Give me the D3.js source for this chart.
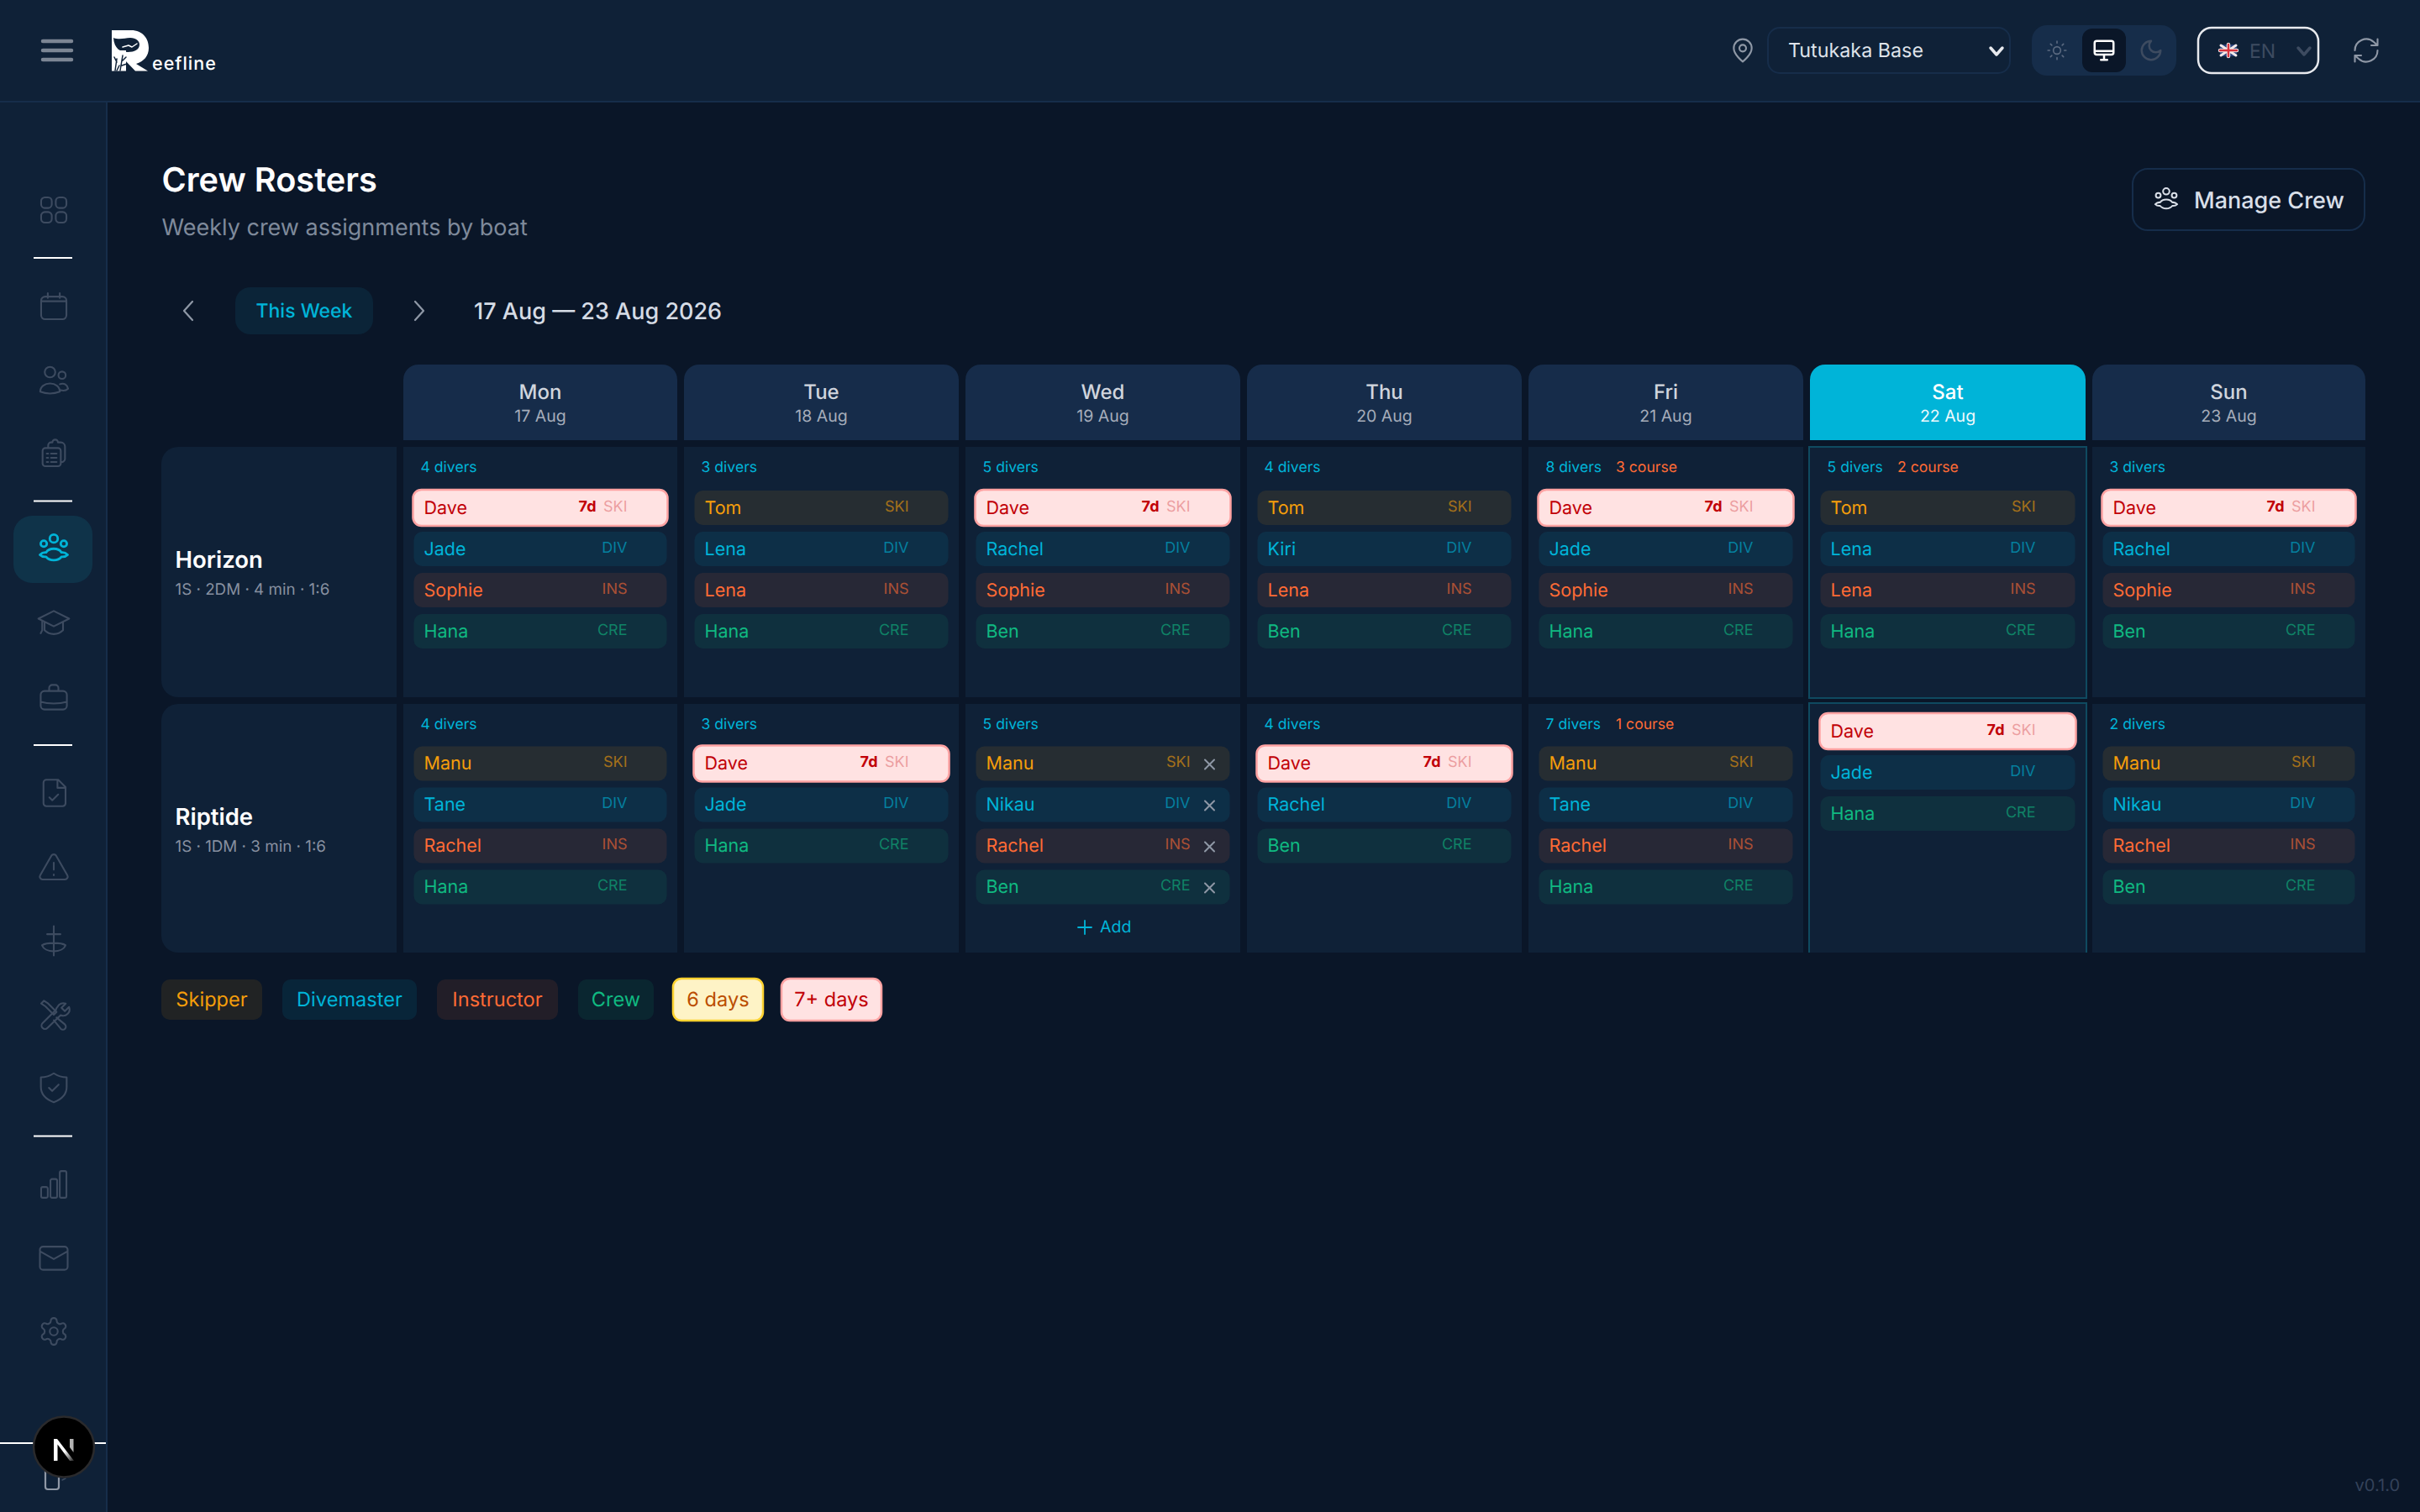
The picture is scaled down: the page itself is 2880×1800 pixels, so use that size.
<!DOCTYPE html>
<html><head><meta charset="utf-8"><title>Crew Rosters</title>
<script src="https://cdnjs.cloudflare.com/ajax/libs/d3/7.9.0/d3.min.js"></script>
<style>html,body{margin:0;padding:0;background:#0a1628;overflow:hidden}svg{display:block;font-family:Inter,"Noto Sans",sans-serif;text-rendering:geometricPrecision}</style>
</head><body><svg id="c" width="2880" height="1800" viewBox="0 0 2880 1800"></svg>
<script>
// ---------- data ----------
const days = ["Mon","Tue","Wed","Thu","Fri","Sat","Sun"];
const dates = ["17 Aug","18 Aug","19 Aug","20 Aug","21 Aug","22 Aug","23 Aug"];
const boats = ["Horizon","Riptide"];
const boatSpecs = ["1S · 2DM · 4 min · 1:6","1S · 1DM · 3 min · 1:6"];
const roleNames = ["SKI","DIV","INS","CRE"];
const legendLabels = ["Skipper","Divemaster","Instructor","Crew","6 days","7+ days"];
const horizonDivers = [4,3,5,4,8,5,3];
const horizonCourse = [0,0,0,0,3,2,0];
const riptideDivers = [4,3,5,4,7,0,2];
const riptideCourse = [0,0,0,0,1,0,0];
const horizonCrew = [
  [["Dave","SKI",7],["Jade","DIV"],["Sophie","INS"],["Hana","CRE"]],
  [["Tom","SKI"],["Lena","DIV"],["Lena","INS"],["Hana","CRE"]],
  [["Dave","SKI",7],["Rachel","DIV"],["Sophie","INS"],["Ben","CRE"]],
  [["Tom","SKI"],["Kiri","DIV"],["Lena","INS"],["Ben","CRE"]],
  [["Dave","SKI",7],["Jade","DIV"],["Sophie","INS"],["Hana","CRE"]],
  [["Tom","SKI"],["Lena","DIV"],["Lena","INS"],["Hana","CRE"]],
  [["Dave","SKI",7],["Rachel","DIV"],["Sophie","INS"],["Ben","CRE"]]
];
const riptideCrew = [
  [["Manu","SKI"],["Tane","DIV"],["Rachel","INS"],["Hana","CRE"]],
  [["Dave","SKI",7],["Jade","DIV"],["Hana","CRE"]],
  [["Manu","SKI"],["Nikau","DIV"],["Rachel","INS"],["Ben","CRE"]],
  [["Dave","SKI",7],["Rachel","DIV"],["Ben","CRE"]],
  [["Manu","SKI"],["Tane","DIV"],["Rachel","INS"],["Hana","CRE"]],
  [["Dave","SKI",7],["Jade","DIV"],["Hana","CRE"]],
  [["Manu","SKI"],["Nikau","DIV"],["Rachel","INS"],["Ben","CRE"]]
];
const navTitle = "Crew Rosters", navSub = "Weekly crew assignments by boat", weekText = "17 Aug — 23 Aug 2026";

// ---------- palette + scales ----------
const BG="#0a1628", PANEL="#0f2137", EDGE="#162d4a", CYAN="#00b4d8", ICON="#3d4b60";
const roleColor = d3.scaleOrdinal(roleNames,["#f59e0b","#00b4d8","#ff6b35","#10b981"]);
const colX = d3.scaleOrdinal(days,[480,814,1149,1484,1819,2154,2490]);
const colW = d3.scaleOrdinal(days,[326,327,327,327,327,328,325]);
const rowTop = d3.scaleOrdinal(boats,[532,838]);
const rowH = d3.scaleOrdinal(boats,[298,296]);
const chipY = d3.scaleLinear().domain([0,1]).range([0,49]);

const svg = d3.select("#c");
const T=(p,x,y,s,o={})=>p.append("text").attr("x",x).attr("y",y).text(s)
  .attr("font-size",o.size||22).attr("font-weight",o.w||400).attr("fill",o.fill||"#fff")
  .attr("text-anchor",o.anchor||"start").attr("letter-spacing",o.ls||null).attr("opacity",o.op==null?null:o.op);
const R=(p,x,y,w,h,r,fill,stroke,sw)=>p.append("rect").attr("x",x).attr("y",y).attr("width",w).attr("height",h).attr("rx",r||0)
  .attr("fill",fill||"none").attr("stroke",stroke||null).attr("stroke-width",sw||null);
const rr=(x,y,w,h,r)=>`M${x+r} ${y}h${w-2*r}a${r} ${r} 0 0 1 ${r} ${r}v${h-2*r}a${r} ${r} 0 0 1 ${-r} ${r}h${-(w-2*r)}a${r} ${r} 0 0 1 ${-r} ${-r}v${-(h-2*r)}a${r} ${r} 0 0 1 ${r} ${-r}z`;
const circ=(x,y,r)=>`M${x-r} ${y}a${r} ${r} 0 1 0 ${2*r} 0a${r} ${r} 0 1 0 ${-2*r} 0z`;
const topRound=(x,y,w,h,r)=>`M${x} ${y+h}V${y+r}a${r} ${r} 0 0 1 ${r} ${-r}H${x+w-r}a${r} ${r} 0 0 1 ${r} ${r}V${y+h}z`;
const leftRound=(x,y,w,h,r)=>`M${x+w} ${y}H${x+r}a${r} ${r} 0 0 0 ${-r} ${r}V${y+h-r}a${r} ${r} 0 0 0 ${r} ${r}H${x+w}z`;
const ICONS={
 grid:rr(2.5,2.5,8,8,2.8)+rr(13.5,2.5,8,8,2.8)+rr(2.5,13.5,8,8,2.8)+rr(13.5,13.5,8,8,2.8),
 cal:rr(2.5,4.5,19,17,3)+"M7.500 2v3.500M16.500 2v3.500M3 8h18",
 users:circ(9.5,7,3.5)+circ(17.5,9,2.4)+"M3 20c0-3.5 3-5.5 6.500-5.500s6.500 2 6.500 5.500c-4 1.500-9 1.500-13 0z"+"M16 15c3-1 5 .5 5.500 3-1 1-3 1.500-5 1",
 clip:rr(4,8,13,13,2)+"M7 12h1M10 12h4M7 15h1M10 15h4M7 18h1M10 18h4M8 8V6a2 2 0 0 1 2-2h1a2 2 0 0 1 4 0h2a3 3 0 0 1 3 3v9a2.500 2.500 0 0 1-3 2",
 crew:circ(12,5,2.6)+circ(5.5,8.3,2)+circ(18.5,8.3,2)+"M3 15.500c1-1 2.500-1.700 4-1.500 1-1.600 3-2.400 5-2.400s4 .8 5 2.400c1.500-.2 3 .5 4 1.500-1 1-2.500 1.500-4 1.300-1 1.300-3 2.200-5 2.200s-4-.9-5-2.200c-1.500.2-3-.3-4-1.300z",
 cap:"M12 4L2 9l10 5 10-5-10-5zM6 11.500v5c2 2 4 2.500 6 2.500s4-.5 6-2.500v-5M4.500 10.500v6l-1 2",
 case:rr(3.5,8,17,12,2.5)+"M9 8V6a2 2 0 0 1 2-2h2a2 2 0 0 1 2 2v2M3.500 15c5 1.500 12 1.500 17 0",
 file:"M7 3h8l5 5v11a2 2 0 0 1-2 2H7a2 2 0 0 1-2-2V5a2 2 0 0 1 2-2zM14.500 3v5.500h5.500M9 15l2 2 4-4",
 alert:"M10.300 4l-8 14a2 2 0 0 0 1.700 3h16a2 2 0 0 0 1.700-3l-8-14a2 2 0 0 0-3.400 0zM12 9v5M12 17.500v.5",
 boat:"M12 2v20M7.500 7.500h9M4 15c3-2 13-2 16 0M4 15c2 5.500 14 5.500 16 0",
 tools:"M14.700 6.300a4.500 4.500 0 0 1 5.800-2.200l-3 3 2.400 2.400 3-3a4.500 4.500 0 0 1-6 5.800L7.500 21.500a2.300 2.300 0 0 1-3.500-3.500l9.500-9.500a4.500 4.500 0 0 1 1.200-2.200zM3 4l2-2 3 2 6 6-2 2-6-6zM14 14l6 5a2 2 0 0 1-3 3l-5-6",
 shield:"M12 3c3 2 5 2.500 8 2.500v6c0 5-4 8-8 9.500-4-1.500-8-4.500-8-9.500v-6c3 0 5-.5 8-2.500zM9 12l2 2 4-4",
 bars:rr(2.5,14,5,8,1.2)+rr(9.5,8,5,14,1.2)+rr(16.5,2,5,20,1.2),
 mail:rr(3,5,18,15,2)+"M3 8l9 5 9-5",
 gear:"M12.220 2h-.440a2 2 0 0 0-2 2v.180a2 2 0 0 1-1 1.730l-.430.250a2 2 0 0 1-2 0l-.150-.080a2 2 0 0 0-2.730.730l-.220.380a2 2 0 0 0 .730 2.730l.150.100a2 2 0 0 1 1 1.720v.510a2 2 0 0 1-1 1.740l-.150.090a2 2 0 0 0-.730 2.730l.220.380a2 2 0 0 0 2.730.730l.150-.080a2 2 0 0 1 2 0l.430.250a2 2 0 0 1 1 1.730V20a2 2 0 0 0 2 2h.440a2 2 0 0 0 2-2v-.180a2 2 0 0 1 1-1.730l.430-.250a2 2 0 0 1 2 0l.150.080a2 2 0 0 0 2.730-.730l.220-.390a2 2 0 0 0-.730-2.730l-.150-.080a2 2 0 0 1-1-1.740v-.500a2 2 0 0 1 1-1.740l.150-.090a2 2 0 0 0 .730-2.730l-.220-.380a2 2 0 0 0-2.730-.730l-.150.080a2 2 0 0 1-2 0l-.430-.250a2 2 0 0 1-1-1.730V4a2 2 0 0 0-2-2z"+circ(12,12,3),
 pin:"M20 10c0 6-8 12-8 12s-8-6-8-12a8 8 0 0 1 16 0z"+circ(12,10,3),
 sun:circ(12,12,4)+"M12 2v2M12 20v2M4.900 4.900l1.400 1.400M17.700 17.700l1.400 1.400M2 12h2M20 12h2M6.300 17.700l-1.400 1.400M19.100 4.900l-1.400 1.400",
 monitor:rr(3,3,18,13,2)+"M3 12.500h18M9 21h6M12 16v5",
 moon:"M12 3a6 6 0 0 0 9 9 9 9 0 1 1-9-9z",
 refresh:"M3 12a9 9 0 0 1 15-6.700L21 8M21 3v5h-5M21 12a9 9 0 0 1-15 6.700L3 16M3 21v-5h5"
};
const icon=(p,name,cx,cy,size,color,sw)=>{const s=size/24;
  return p.append("path").attr("d",ICONS[name]).attr("fill","none").attr("stroke",color)
   .attr("stroke-width",sw||1.5).attr("stroke-linecap","round").attr("stroke-linejoin","round")
   .attr("transform",`translate(${cx-size/2},${cy-size/2}) scale(${s})`);};
const X=(p,cx,cy,r,color,sw)=>p.append("path").attr("d",`M${cx-r} ${cy-r}L${cx+r} ${cy+r}M${cx+r} ${cy-r}L${cx-r} ${cy+r}`).attr("stroke",color).attr("stroke-width",sw).attr("stroke-linecap","round");
const stroke=(p,d,color,sw)=>p.append("path").attr("d",d).attr("fill","none").attr("stroke",color).attr("stroke-width",sw).attr("stroke-linecap","round").attr("stroke-linejoin","round");

// ---------- frame ----------
R(svg,0,0,2880,1800,0,BG);
R(svg,0,0,2880,121,0,PANEL); R(svg,0,120,2880,2,0,EDGE);
R(svg,0,122,127,1678,0,PANEL); R(svg,126,122,2,1678,0,EDGE);

// ---------- top bar ----------
const bar=svg.append("g");
[49,60,71].forEach(y=>stroke(bar,`M51 ${y}H85`,"#7c8694",4.5));
// logo
bar.append("path").attr("fill","#fff").attr("d","M133 36H156C170 36 177 46 177 57C177 67 171 73 162 76L176 84.500H161L148 71H133Z");
bar.append("path").attr("fill",PANEL).attr("d","M135 45C143 48 148 45 155 45C162 45 166 49 166 53C166 59 160 62 152 62C143 62 136 58 135 45Z");
bar.append("path").attr("fill","#fff").attr("d","M133 60H150V84.500H133Z");
stroke(bar,"M146 56L153 54L157 56L163 52",'#fff',1.5);
stroke(bar,"M137 84L139 70M139 74L136 68M143 84L146 66M146 72L150 68M145 78L151 76M139 84L142 78",PANEL,1.5);
T(bar,181,83,"eefline",{size:21.5,w:500,ls:1});
icon(bar,"pin",2074,60,32,"#8f98a6",1.6);
R(bar,2104,33,288,54,14,"none",EDGE,2);
T(bar,2128,68,"Tutukaka Base",{size:23.3,fill:"#dfe3ea"});
stroke(bar,"M2369 57L2376 65L2383 57","#e8eaee",3.5);
R(bar,2418,30,172,60,18,EDGE);
R(bar,2478,34,52,52,12,BG);
icon(bar,"sun",2448,60,26,"#5b6a80",1.5);
icon(bar,"monitor",2504,60,30,"#fff",2);
icon(bar,"moon",2560,60,30,"#3d4b60",2);
R(bar,2616,33,143,54,16,"none","#e8eaee",2.5);
{const g=bar.append("g"); R(g,2642,53,20,14,1,"#27407a");
 stroke(g,"M2643 54L2661 66M2661 54L2643 66","#f3e9ea",3); stroke(g,"M2652 53V67M2642 60H2662","#f2e7e8",4.5); stroke(g,"M2652 53V67M2642 60H2662","#d8343f",2.5);}
T(bar,2677,69,"EN",{size:23,fill:"#3d4b60"});
stroke(bar,"M2735 57L2742 65L2749 57","#3d4b60",3.5);
icon(bar,"refresh",2816,60,36,"#8f98a6",1.4);

// ---------- sidebar ----------
const side=svg.append("g");
[307,596.5,887,1352.5].forEach(y=>R(side,40,y-1,46,2,0,"#fff"));
R(side,16,614,94,80,22,"#0f3349");
const sideIcons=[["grid",250,38],["cal",365,38],["users",452,43],["clip",540,40],["crew",654,44],["cap",742,44],["case",830,44],["file",944,42],["alert",1032,40],["boat",1120,42],["tools",1208,40],["shield",1295,46],["bars",1410,38],["mail",1497,44],["gear",1585,38]];
sideIcons.forEach(([n,y,sz])=>icon(side,n,64,y,sz,n==="crew"?CYAN:ICON,(n==="crew"?2.8:2.1)*24/sz));
R(side,0,1717,126,2,0,"#fff");
stroke(side,rr(54,1747,16,26,3),"#8f98a6",2.2);
stroke(side,"M74 1762l4-2",ICON,1.5);
side.append("circle").attr("cx",76).attr("cy",1722.5).attr("r",36).attr("fill","#000").attr("stroke","#2a2a2c").attr("stroke-width",2.5);
{const defs=svg.append("defs"); const lg=defs.append("linearGradient").attr("id","n").attr("x1",0).attr("y1",0).attr("x2",1).attr("y2",1);
 lg.append("stop").attr("offset","55%").attr("stop-color","#fff"); lg.append("stop").attr("offset","100%").attr("stop-color","#fff").attr("stop-opacity",.15);
 side.append("path").attr("d","M64 1739V1713H68L88 1739H83L68.500 1719.500V1739Z").attr("fill","url(#n)");
 side.append("path").attr("d","M83 1713H87.500V1729L83 1723Z").attr("fill","#fff").attr("opacity",.7);}

// ---------- page head ----------
const pageHead=svg.append("g");
T(pageHead,192.5,228,navTitle,{size:39.7,w:600});
T(pageHead,192.5,280,navSub,{size:27,fill:"#7f8a9b"});
R(pageHead,2538,201,276,73,18,"none",EDGE,2);
icon(pageHead,"crew",2578,238,35,"#d9dfe8",1.4);
T(pageHead,2611,248,"Manage Crew",{size:27,w:500,fill:"#d9dfe8"});
stroke(pageHead,"M229 359L219 370L229 381","#8f98a6",2.2);
R(pageHead,280,342,164,56,18,"#0b2438");
T(pageHead,362,378,"This Week",{size:23,w:500,fill:CYAN,anchor:"middle"});
stroke(pageHead,"M494 359L504 370L494 381","#8f98a6",2.2);
T(pageHead,564,380,weekText,{size:27,w:500,fill:"#d5dbe5"});

// ---------- day headers ----------
const hdr=svg.append("g");
days.forEach((d,i)=>{const sat=d==="Sat",x=colX(d),w=colW(d);
  hdr.append("path").attr("d",topRound(x,434,w,90,18)).attr("fill",sat?CYAN:"#162c4a");
  T(hdr,x+w/2,475,d,{size:24,w:500,fill:sat?"#fff":"#d0d5dd",anchor:"middle"});
  T(hdr,x+w/2,502,dates[i],{size:19.5,fill:sat?"#eef9fc":"#a5adba",anchor:"middle"});
});

// ---------- rows ----------
const grid=svg.append("g");
const drawRow=(boat,spec,crew,divers,course,chipTop)=>{
  const y=rowTop(boat),h=rowH(boat);
  grid.append("path").attr("d",leftRound(192,y,280,h,20)).attr("fill",PANEL);
  T(grid,208.5,y+144,boat,{size:27.5,w:600});
  T(grid,208.5,y+176,spec,{size:18.8,fill:"#8790a0"});
  days.forEach((d,i)=>{
    const x=colX(d),w=colW(d),sat=d==="Sat";
    R(grid,x,y,w,h,0,PANEL);
    if(sat) grid.append("path").attr("d",boat==="Horizon"?`M${x-1} ${y} H${x+w+1} V${y+h+1} H${x-1} Z`:`M${x-1} ${y+h} V${y-1} H${x+w+1} V${y+h}`)
      .attr("fill","none").attr("stroke","#0f4a60").attr("stroke-width",2);
    if(divers[i]>0){
      T(grid,x+20.5,y+30,`${divers[i]} divers`,{size:17.6,fill:CYAN});
      if(course[i]>0) T(grid,x+104,y+30,`${course[i]} course`,{size:17.6,fill:"#ff6b35"});
    }
    const first=divers[i]>0?chipTop:y+12;
    crew[i].forEach(([name,role,dayCount],k)=>{
      const cy=first+chipY(k),cx=x+12.5,cw=w-25,ch=41,ctr=cy+ch/2,warn=dayCount>=7;
      if(warn) R(grid,cx-1,cy-1,cw+2,ch+2,10,"#ffe2e2","#ffa2a2",2.5);
      else R(grid,cx,cy,cw,ch,10,roleColor(role)).attr("fill-opacity",.1);
      T(grid,cx+12,ctr+7,name,{size:21.5,fill:warn?"#c10007":roleColor(role)});
      const rEdge=cx+cw-47;
      T(grid,rEdge,ctr+4,role,{size:18,fill:warn?"#c10007":roleColor(role),anchor:"end",op:warn?.3:.6});
      if(warn) T(grid,rEdge-37,ctr+4,`${dayCount}d`,{size:18,w:700,fill:"#c10007",anchor:"end"});
      if(boat==="Riptide"&&d==="Wed") X(grid,cx+cw-24,ctr+1,5.5,"#8f98a6",2);
    });
    if(boat==="Riptide"&&d==="Wed"){
      const px=x+142; stroke(grid,`M${px-8} 1104H${px+8}M${px} 1096V1112`,CYAN,1.8);
      T(grid,x+160,1110,"Add",{size:19.5,fill:CYAN});
    }
  });
};
drawRow(boats[0],boatSpecs[0],horizonCrew,horizonDivers,horizonCourse,584);
drawRow(boats[1],boatSpecs[1],riptideCrew,riptideDivers,riptideCourse,888.5);

// ---------- legend ----------
const leg=svg.append("g");
const legBox=[[192,120],[336,160],[520,144],[688,90],[801,107],[930,119]];
const legFill=[...roleNames.map(r=>roleColor(r))];
legendLabels.forEach((s,i)=>{const [x,w]=legBox[i];
  if(i<4){ R(leg,x,1166,w,48,10,legFill[i]).attr("fill-opacity",.1); T(leg,x+w/2,1197.5,s,{size:23.6,fill:legFill[i],anchor:"middle"}); }
  else { const warn=i===5;
    R(leg,x,1165,w,50,10,warn?"#ffe2e2":"#fef3c6",warn?"#ffa2a2":"#ffd230",2.5);
    T(leg,x+w/2,1197.5,s,{size:23.6,fill:warn?"#c10007":"#bb4d00",anchor:"middle"}); }
});
T(svg,2856,1775,"v0.1.0",{size:20,fill:"#34425a",anchor:"end"});
</script></body></html>
